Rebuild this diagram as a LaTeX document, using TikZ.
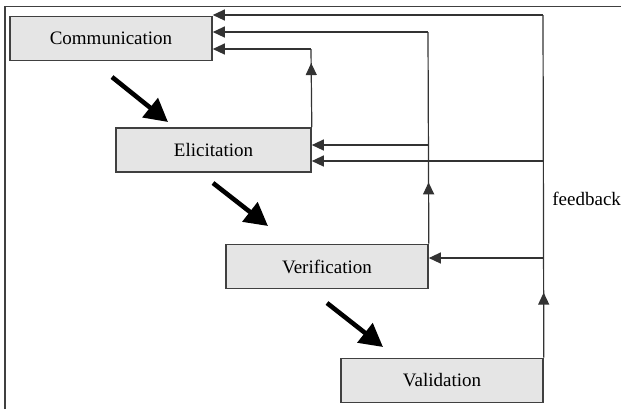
\documentclass[tikz,border=0pt]{standalone}
\usepackage{fontspec}
\setmainfont{Liberation Serif}
\usepackage{tikz}
\usetikzlibrary{
  arrows.meta,
  decorations,
  decorations.markings
}

\begin{document}
\begin{tikzpicture}[%詳細設定
          x=0.5pt,y=-0.5pt,
          arrow/.style={
              postaction={
                  decorate,
                  decoration={
                      markings,
                      mark=at position #1 with {\arrow{Triangle[length=6pt,width=5.5pt]}}
                    }
                }
            },arrow/.default=.5
          ,box/.style={
              draw=black!75,
              line width=0.8pt,
              fill=black!10,
              minimum height=22pt,
              inner sep=0pt,
              font=\fontsize{9.5}{11}\selectfont
            },fb/.style={
              draw=black!80,
              line width=0.6pt
            },tip/.style={
              fb,
              -{Triangle[length=6pt,width=5.5pt]}
            },bigarrow/.style={
              line width=2.3pt,
              -{Triangle[length=11.5pt,width=12pt]}
            }
        ]

        \useasboundingbox (0,0) rectangle (621,409);
        % 外枠
        \draw[black!75,line width=0.75pt] (5,409) -- (5,6.5) -- (621,6.5);

        % 各工程
        \node[box,minimum width=101pt] (comm) at (111,38.5) {Communication};
        \node[box,minimum width=97.5pt] (elic) at (213.5,149.8) {Elicitation};
        \node[box,minimum width=101pt] (verif) at (327,266.5) {Verification};
        \node[box,minimum width=101pt] (valid) at (442,380.5) {Validation};

        % 工程間の太い矢印
        \coordinate (a1s) at (112,77);
        \coordinate (a1e) at (168,122);
        \coordinate (a2s) at (213,183);
        \coordinate (a2e) at (268,226);
        \coordinate (a3s) at (327,303);
        \coordinate (a3e) at (383,347);
        \draw[bigarrow] (a1s) -- (a1e);
        \draw[bigarrow] (a2s) -- (a2e);
        \draw[bigarrow] (a3s) -- (a3e);

        % フィードバック経路の角
        \coordinate (cA) at (311,49);
        \coordinate (cB) at (428,32);
        \coordinate (cC) at (543,15);
        \coordinate (bB) at (428,145);
        \coordinate (bC1) at (543,161);
        \coordinate (bC2) at (543,258);

        % Elicitation から
        \draw[fb,arrow=.82] (elic.north east) -- (cA);
        \draw[tip] (cA) -- (comm.east |- cA);
        % Verification から
        \draw[fb,arrow=.29] (verif.north east) -- (cB);
        \draw[tip] (cB) -- (comm.east |- cB);
        \draw[tip] (bB) -- (elic.east |- bB);
        % Validation から
        \draw[fb,arrow=.19] (valid.north east) -- (cC);
        \draw[tip] (cC) -- (comm.east |- cC);
        \draw[tip] (bC1) -- (elic.east |- bC1);
        \draw[tip] (bC2) -- (verif.east |- bC2);

        \node[anchor=west,inner sep=0pt,font=\fontsize{9.5}{11}\selectfont] (fbtext) at (552,199) {feedback};

      \end{tikzpicture}
\end{document}
